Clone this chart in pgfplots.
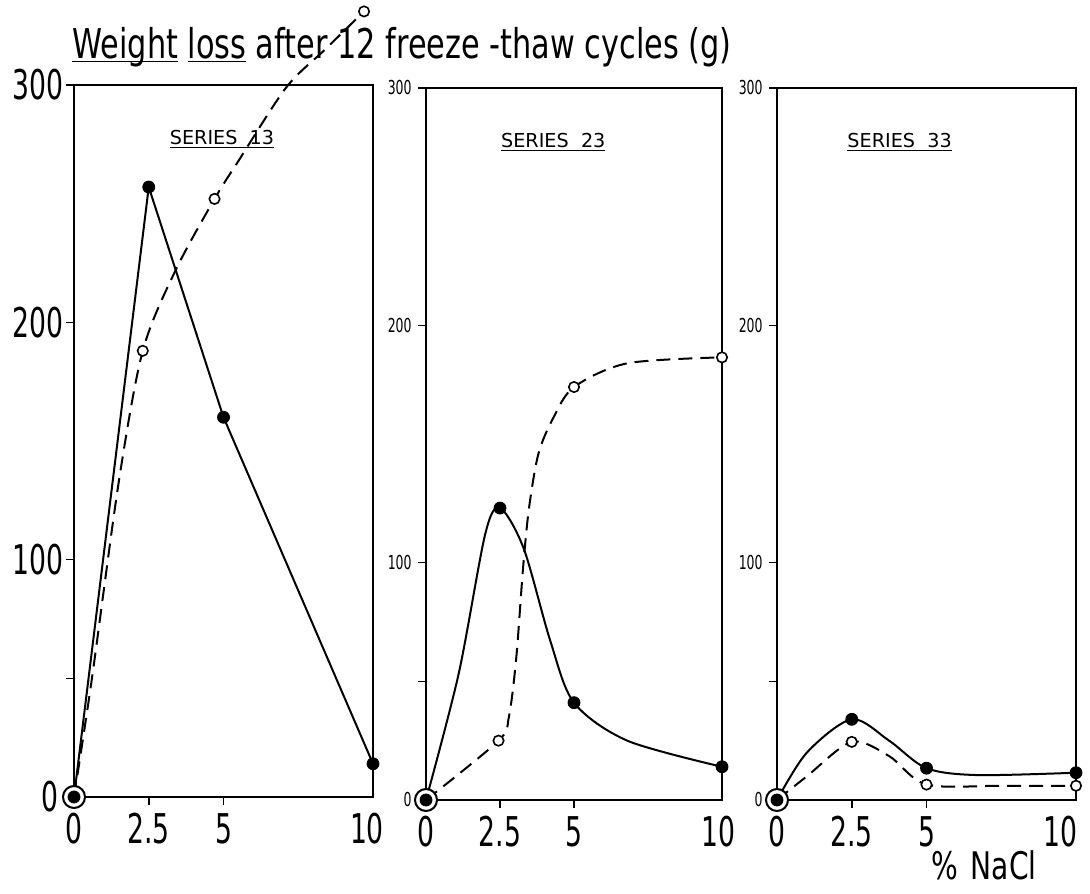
\documentclass[border=0pt]{standalone}
\usepackage{fontspec}
\setmainfont{DejaVu Sans}
\newfontfamily\numfont{DejaVu Sans}[FakeStretch=0.65]
\newfontfamily\titfont{DejaVu Sans}[FakeStretch=0.74]
\usepackage{pgfplots}
\pgfplotsset{compat=1.18}

\pgfplotsset{
  panel/.style={
    scale only axis, width=149.5pt, height=356pt,
    anchor=south west,
    xmin=0, xmax=10, ymin=0, ymax=300,
    clip=false,
    axis line style={line width=1pt},
    tick align=outside, major tick length=4pt,
    tick style={line width=0.8pt, black},
    xtick pos=bottom, ytick pos=left,
    xtick={2.5,5}, xticklabels={2.5,5},
    extra x ticks={0,10},
    extra x tick style={tick style={draw=none}},
    ytick={50,100,200,300}, yticklabels={,100,200,300},
    extra y ticks={0}, extra y tick labels={0},
    xticklabel style={font=\numfont\fontsize{20.5}{24}\selectfont, inner sep=1pt, yshift=-3pt},
  },
  bigy/.style={
    yticklabel style={font=\numfont\fontsize{20.5}{24}\selectfont, inner sep=1pt},
    extra y tick style={tick style={draw=none}, yticklabel style={xshift=-2.5pt}},
  },
  smally/.style={
    yticklabel style={font=\numfont\fontsize{9.6}{11}\selectfont, inner sep=3pt},
    extra y tick style={tick style={draw=none}},
  },
  solidline/.style={no marks, line width=1pt, black},
  dashline/.style={no marks, line width=1pt, black, dash pattern=on 7pt off 4pt},
  filled/.style={only marks, mark=*, mark size=3pt, mark options={fill=black, draw=black}},
  open/.style={only marks, mark=*, mark size=2.6pt, mark options={fill=white, draw=black, line width=0.8pt}},
  origin/.style={only marks, mark=*, mark size=5.5pt, mark options={fill=white, draw=black, line width=1pt}},
}
\tikzset{serieslabel/.style={font=\fontsize{9.6}{11}\selectfont}}
\newcommand{\ul}[1]{\underline{\smash{#1}}}

\begin{document}
\begin{tikzpicture}
\useasboundingbox (0,0) rectangle (545pt,446.5pt);

\node[anchor=base west, inner sep=0pt, font=\titfont\fontsize{20.5}{24}\selectfont]
  at (36pt,417pt) {\ul{Weight} \ul{loss} after 12 freeze -thaw cycles (g)};
\node[font=\titfont\fontsize{19}{22}\selectfont] at (492pt,14pt) {\%\,\,NaCl};

% SERIES 13
\begin{axis}[panel, bigy, at={(37pt,48pt)}, extra x tick labels={0,\hspace*{-6pt}10}]
\addplot[dashline, smooth] coordinates {
  (0,0) (0.6,50) (1.5,133) (2.3,188) (3.4,222) (4.7,252) (5.5,268) (7.1,299) (8.4,315) (9.7,331)
};
\addplot[solidline, sharp plot] coordinates {
  (0,0) (2.5,257) (5,160) (10,14)
};
\addplot[origin] coordinates {(0,0)};
\addplot[open] coordinates {(2.3,188) (4.7,252) (9.7,331)};
\addplot[filled] coordinates {(0,0) (2.5,257) (5,160) (10,14)};
\node[serieslabel] at (rel axis cs:0.495,0.923) {\underline{SERIES\ \ 13}};
\end{axis}

% SERIES 23
\begin{axis}[panel, smally, at={(213pt,46.5pt)}, width=148pt, extra x tick labels={0,\hspace*{-4pt}10}]
\addplot[dashline, smooth] coordinates {
  (0,0) (2.45,25) (2.8,35) (3.05,60) (3.28,98) (3.48,123) (3.8,146) (4.3,161) (5,174) (6.8,184) (10,186.5)
};
\addplot[solidline, smooth] coordinates {
  (0,0) (1.1,53) (2.0,112) (2.5,123) (3.3,106) (4.2,67) (5,41) (6.8,25) (10,14)
};
\addplot[origin] coordinates {(0,0)};
\addplot[open] coordinates {(2.45,25) (5,174) (10,186.5)};
\addplot[filled] coordinates {(0,0) (2.5,123) (5,41) (10,14)};
\node[serieslabel] at (rel axis cs:0.43,0.923) {\underline{SERIES\ \ 23}};
\end{axis}

% SERIES 33
\begin{axis}[panel, smally, at={(388.5pt,46.5pt)}, extra x tick labels={0,\hspace*{-16pt}10}]
\addplot[dashline, smooth] coordinates {
  (0,0) (1.0,10) (2.5,24.5) (3.75,18.5) (5,6.5) (7.5,6) (10,6)
};
\addplot[solidline, smooth] coordinates {
  (0,0) (1.0,20) (2.5,34) (3.75,25) (5,13.4) (6.7,10.5) (10,11.5)
};
\addplot[origin] coordinates {(0,0)};
\addplot[open] coordinates {(2.5,24.5) (5,6.5) (10,6)};
\addplot[filled] coordinates {(0,0) (2.5,34) (5,13.4) (10,11.5)};
\node[serieslabel] at (rel axis cs:0.41,0.923) {\underline{SERIES\ \ 33}};
\end{axis}
\end{tikzpicture}
\end{document}
